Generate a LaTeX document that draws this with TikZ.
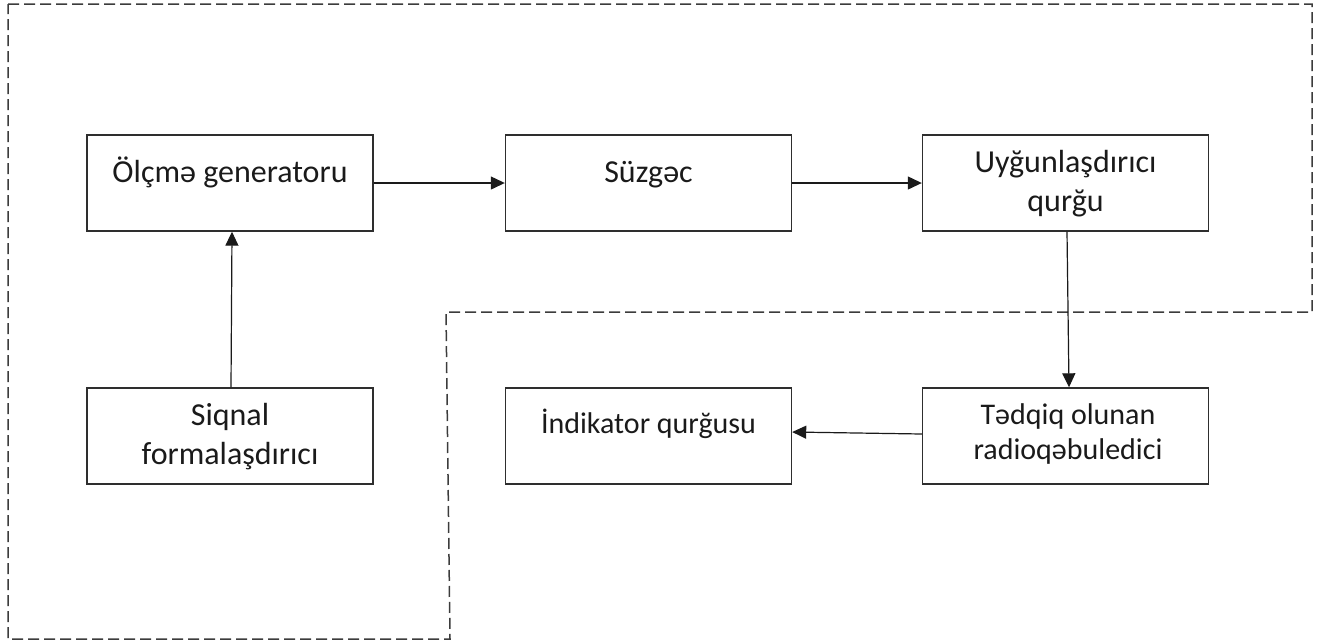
\documentclass[tikz,border=0pt]{standalone}
\usepackage{fontspec}
\setmainfont{Carlito}
\usetikzlibrary{arrows.meta,calc}
\definecolor{edge}{HTML}{2E2E2E}
\definecolor{ink}{HTML}{1A1A1A}
\definecolor{frame}{HTML}{3C3C3C}
\tikzset{
  blk/.style={draw=edge, line width=1.4pt, minimum width=286pt, minimum height=96pt, inner sep=0pt},
  lbl/.style={anchor=base, inner sep=0pt, text=ink, font=\fontsize{32}{39}\selectfont},
  lbls/.style={lbl, font=\fontsize{30}{36}\selectfont},
  flow/.style={draw=ink, line width=1.2pt, -{Triangle[length=14pt,width=13pt]}},
  zone/.style={draw=frame, line width=1.5pt, dash pattern=on 11pt off 5pt}
}
\begin{document}
\begin{tikzpicture}[x=1pt,y=-1pt]
\useasboundingbox (0,0) rectangle (1324,641);

% enclosure of the transmitting side
\draw[zone] (8,4) -- (1312,4) -- (1312,312) -- (446,312) -- (450,639) -- (8,639) -- cycle;

% blocks
\node[blk] (gen) at (230,183) {};
\node[blk] (suz) at (648.5,183) {};
\node[blk] (uyg) at (1065.5,183) {};
\node[blk] (sig) at (230,436) {};
\node[blk] (ind) at (648.5,436) {};
\node[blk] (tdq) at (1065.5,436) {};

% block labels
\node[lbl] (genT) at (230,182) {Ölçmə generatoru};
\node[lbl] (suzT) at (648.5,182) {Süzgəc};
\node[lbl] (uygT1) at (1065.5,172) {Uyğunlaşdırıcı};
\node[lbl] (uygT2) at (1065.5,211) {qurğu};
\node[lbl] (sigT1) at (230,425) {Siqnal};
\node[lbl] (sigT2) at (230,464) {formalaşdırıcı};
\node[lbls] (indT) at (648.5,433) {İndikator qurğusu};
\node[lbls] (tdqT1) at (1068,424.5) {Tədqiq olunan};
\node[lbls] (tdqT2) at (1068,459.5) {radioqəbuledici};

% signal flow
\draw[flow] (gen.east) -- (suz.west);
\draw[flow] (suz.east) -- (uyg.west);
\draw[flow] ([xshift=1.5pt]uyg.south) -- ([xshift=3.5pt]tdq.north);
\draw[flow] ([yshift=2pt]tdq.west) -- ([yshift=4pt]ind.east);
\draw[flow] ([xshift=1pt]sig.north) -- ([xshift=2pt]gen.south);
\end{tikzpicture}
\end{document}
